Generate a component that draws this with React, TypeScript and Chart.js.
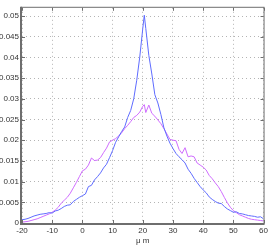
import React, { useEffect, useRef } from "react";
import { Chart, registerables } from "chart.js";

Chart.register(...registerables);

const xs = [
  -20, -19, -18, -17, -16, -15, -14, -13, -12, -11, -10, -9, -8, -7, -6, -5, -4, -3, -2, -1,
  0, 1, 2, 3, 4, 5, 6, 7, 8, 9, 10, 11, 12, 13, 14, 15, 16, 17, 18, 19, 20, 20.5, 21, 22, 23,
  24, 25, 26, 27, 28, 29, 30, 31, 32, 33, 34, 35, 36, 37, 38, 39, 40, 41, 42, 43, 44, 45, 46,
  47, 48, 49, 50, 51, 52, 53, 54, 55, 56, 57, 58, 59, 60,
];

const blueValues = [
  0.0008, 0.0009, 0.0011, 0.0014, 0.0017, 0.0019, 0.0021, 0.0022, 0.0023, 0.0025, 0.0024,
  0.0029, 0.0031, 0.0035, 0.004, 0.0043, 0.0044, 0.0052, 0.0057, 0.0062, 0.0066, 0.007,
  0.0088, 0.0091, 0.0104, 0.0112, 0.0121, 0.0133, 0.0142, 0.0158, 0.0175, 0.0195, 0.0208,
  0.0221, 0.0232, 0.0255, 0.0272, 0.03, 0.0345, 0.0401, 0.047, 0.0502, 0.047, 0.0405, 0.036,
  0.031, 0.029, 0.0262, 0.023, 0.021, 0.0193, 0.018, 0.0168, 0.016, 0.0153, 0.0145, 0.013,
  0.012, 0.0108, 0.0098, 0.0088, 0.008, 0.0073, 0.0063, 0.0057, 0.0052, 0.0048, 0.0047,
  0.004, 0.0034, 0.003, 0.0026, 0.0027, 0.0023, 0.0022, 0.002, 0.0018, 0.0017, 0.0016,
  0.0014, 0.0015, 0.001,
];

const magentaValues = [
  0.0002, 0.0003, 0.0004, 0.0006, 0.0008, 0.001, 0.0013, 0.0016, 0.0019, 0.0022, 0.0026,
  0.0031, 0.0038, 0.0048, 0.0055, 0.0062, 0.0072, 0.0085, 0.0098, 0.0112, 0.0126, 0.013,
  0.014, 0.0157, 0.0151, 0.0152, 0.0158, 0.017, 0.0181, 0.0196, 0.02, 0.0204, 0.021, 0.0218,
  0.0228, 0.0236, 0.0245, 0.0255, 0.026, 0.0268, 0.0282, 0.0286, 0.0267, 0.0285, 0.0265,
  0.0258, 0.0249, 0.024, 0.0228, 0.0215, 0.0202, 0.02, 0.0199, 0.0178, 0.0168, 0.0182, 0.016,
  0.0162, 0.016, 0.0145, 0.014, 0.0135, 0.0128, 0.0115, 0.0107, 0.0097, 0.0088, 0.0076,
  0.0062, 0.0049, 0.0038, 0.003, 0.0025, 0.002, 0.0017, 0.0014, 0.0011, 0.0009, 0.0008,
  0.0007, 0.0006, 0.0005,
];

const xTicks = [-20, -10, 0, 10, 20, 30, 40, 50, 60];
const yTicks = [0, 0.005, 0.01, 0.015, 0.02, 0.025, 0.03, 0.035, 0.04, 0.045, 0.05];
const xLabel = "μ m";

const FONT = "'Liberation Sans', Arial, sans-serif";

const framePlugin = {
  id: "frame",
  afterDraw(chart: any) {
    const { ctx, chartArea } = chart;
    const { left, right, top, bottom } = chartArea;
    ctx.save();
    ctx.strokeStyle = "#6e6e6e";
    ctx.lineWidth = 1;
    ctx.strokeRect(left - 0.5, top - 0.5, right - left + 1, bottom - top + 1);
    ctx.lineWidth = 2;
    ctx.beginPath();
    ctx.moveTo(left - 1, top - 1);
    ctx.lineTo(left - 1, bottom + 1);
    ctx.lineTo(right + 1, bottom + 1);
    ctx.stroke();
    ctx.lineWidth = 1;
    const sx = chart.scales.x;
    const sy = chart.scales.y;
    sx.ticks.forEach((t: any) => {
      const px = Math.round(sx.getPixelForValue(t.value)) + 0.5;
      ctx.beginPath();
      ctx.moveTo(px, bottom);
      ctx.lineTo(px, bottom - 3);
      ctx.moveTo(px, top);
      ctx.lineTo(px, top + 3);
      ctx.stroke();
    });
    sy.ticks.forEach((t: any) => {
      const py = Math.round(sy.getPixelForValue(t.value)) + 0.5;
      ctx.beginPath();
      ctx.moveTo(left, py);
      ctx.lineTo(left + 3, py);
      ctx.moveTo(right, py);
      ctx.lineTo(right - 3, py);
      ctx.stroke();
    });
    ctx.restore();
  },
};

export default function App() {
  const ref = useRef<HTMLCanvasElement | null>(null);
  useEffect(() => {
    if (!ref.current) return;
    const chart = new Chart(ref.current, {
      type: "line",
      data: {
        datasets: [
          {
            data: xs.map((x, i) => ({ x, y: blueValues[i] })),
            borderColor: "#5f6cff",
            borderWidth: 1,
            pointRadius: 0,
            tension: 0,
          },
          {
            data: xs.map((x, i) => ({ x, y: magentaValues[i] })),
            borderColor: "#cf6cff",
            borderWidth: 1,
            pointRadius: 0,
            tension: 0,
          },
        ],
      },
      options: {
        animation: false,
        responsive: false,
        maintainAspectRatio: false,
        layout: { padding: { top: 3, right: 7, left: 0, bottom: 0 } },
        plugins: { legend: { display: false }, tooltip: { enabled: false } },
        scales: {
          x: {
            type: "linear",
            min: -20,
            max: 60,
            border: { display: false, dash: [1, 3] },
            grid: { color: "#b4b4b4", lineWidth: 1, drawTicks: false },
            ticks: {
              autoSkip: false,
              color: "#333",
              padding: 3,
              maxRotation: 0,
              font: { family: FONT, size: 8 },
              callback: (v: any) => String(v),
            },
            afterBuildTicks: (s: any) => {
              s.ticks = xTicks.map((value) => ({ value }));
            },
            title: {
              display: true,
              text: xLabel,
              color: "#333",
              font: { family: FONT, size: 8 },
              padding: { top: 1, bottom: 0 },
            },
            afterFit: (s: any) => {
              s.height = 23;
            },
          },
          y: {
            min: 0,
            max: 0.052,
            border: { display: false, dash: [1, 3] },
            grid: { color: "#b4b4b4", lineWidth: 1, drawTicks: false },
            ticks: {
              autoSkip: false,
              color: "#333",
              padding: 3,
              font: { family: FONT, size: 8 },
              callback: (v: any) => String(Number(Number(v).toFixed(3))),
            },
            afterBuildTicks: (s: any) => {
              s.ticks = yTicks.map((value) => ({ value }));
            },
            afterFit: (s: any) => {
              s.width = 22;
            },
          },
        },
      },
      plugins: [framePlugin],
    });
    return () => chart.destroy();
  }, []);
  return (
    <div style={{ position: "fixed", left: 0, top: 0, width: 271, height: 246, background: "#fff" }}>
      <canvas ref={ref} width={271} height={246} style={{ width: 271, height: 246 }} />
    </div>
  );
}
